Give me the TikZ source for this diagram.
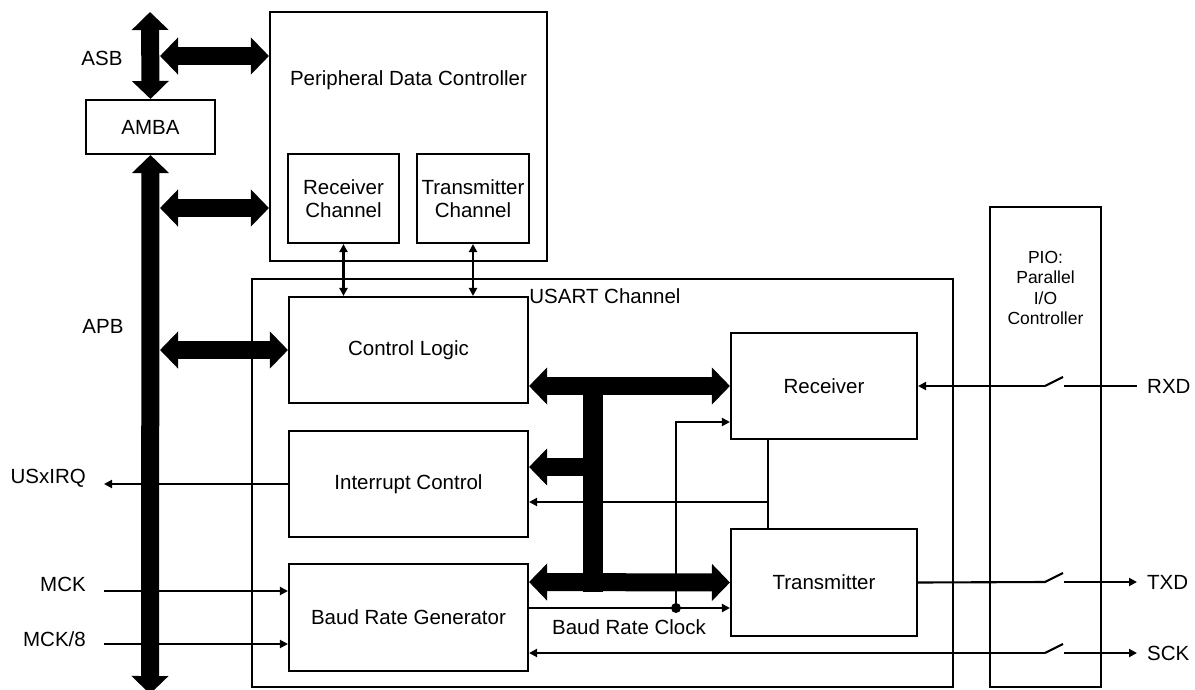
\documentclass[tikz,border=0pt]{standalone}
\usepackage{fontspec}
\setmainfont{Liberation Sans}
\usetikzlibrary{arrows.meta}
\begin{document}
\begin{tikzpicture}[x=1pt,y=-1pt,
  font=\fontsize{20.5}{22.5}\selectfont,
  box/.style={draw,line width=2.1pt,inner sep=0pt,align=center},
  lbl/.style={inner sep=0pt},
  wire/.style={line width=2.1pt},
  ar/.style={wire,-{Triangle[length=8pt,width=8pt]}},
  lar/.style={wire,{Triangle[length=8pt,width=8pt]}-},
  dar/.style={wire,{Triangle[length=8pt,width=8pt]}-{Triangle[length=8pt,width=8pt]}},
  bus/.style={line width=18pt},
  busR/.style={bus,-{Triangle[length=18pt,width=36pt]}},
  busD/.style={bus,{Triangle[length=18pt,width=36pt]}-{Triangle[length=18pt,width=36pt]}},
  jdot/.style={circle,fill,inner sep=0pt,minimum size=10pt}
]
\useasboundingbox (0,0) rectangle (1195,689);
% boxes
\node[box,minimum width=277pt,minimum height=249pt] (pdc) at (408.5,136.5) {};
\node (pdct) at (408.5,80) {Peripheral Data Controller};
\node[box,minimum width=129pt,minimum height=54pt] (amba) at (150.5,127) {AMBA};
\node[box,minimum width=111pt,minimum height=89pt] (rc) at (343.5,198.5) {Receiver\\Channel};
\node[box,minimum width=112pt,minimum height=89pt] (tc) at (473,198.5) {Transmitter\\Channel};
\node[box,minimum width=701pt,minimum height=408pt] (us) at (602.5,483) {};
\node (ust) at (605,296) {USART Channel};
\node[box,minimum width=239pt,minimum height=106pt] (cl) at (408.5,350) {Control Logic};
\node[box,minimum width=239pt,minimum height=106pt] (ic) at (408.5,484) {Interrupt Control};
\node[box,minimum width=239pt,minimum height=107pt] (brg) at (408.5,617.5) {Baud Rate Generator};
\node[box,minimum width=186pt,minimum height=106pt] (rx) at (824,386) {Receiver};
\node[box,minimum width=186pt,minimum height=107pt] (tx) at (824,582.5) {Transmitter};
\node[box,minimum width=111pt,minimum height=480pt] (pio) at (1045.5,447) {};
\node[align=center,font=\fontsize{17.5}{20.5}\selectfont] (piot) at (1045.5,288) {PIO:\\Parallel\\I/O\\Controller};
% labels
\node (asb) at (102,58) {ASB};
\node (apb) at (103,326) {APB};
\node[lbl,anchor=east] (irq) at (86,478) {USxIRQ};
\node[lbl,anchor=east] (mck) at (86,584) {MCK};
\node[lbl,anchor=east] (mck8) at (86,639) {MCK/8};
\node[lbl,anchor=west] (rxd) at (1147,386) {RXD};
\node[lbl,anchor=west] (txd) at (1147,582) {TXD};
\node[lbl,anchor=west] (sck) at (1147,653) {SCK};
\node (brc) at (629,627) {Baud Rate Clock};
% coordinates
\coordinate (asbT) at (150,12);
\coordinate (apbB) at (150,694);
\coordinate (asbR) at (160,56);
\coordinate (apbR1) at (160,208);
\coordinate (apbR2) at (160,350);
\coordinate (barT) at (593,377);
\coordinate (barB) at (593,592);
\coordinate (barI) at (593,467);
\coordinate (y56) at (0,56);
\coordinate (y208) at (0,208);
\coordinate (y386) at (0,386);
\coordinate (y467) at (0,467);
\coordinate (y582) at (0,582);
\coordinate (yRC) at (0,422);
\coordinate (yIC) at (0,502);
\coordinate (xv) at (768,0);
\coordinate (irqE) at (104,484);
\coordinate (mckS) at (104,591);
\coordinate (mck8S) at (104,644);
% buses
\draw[busD] (asbT) -- (amba.north);
\draw[busD] (asbR) -- (pdc.west |- y56);
\draw[busD] (amba.south) -- (apbB);
\draw[busD] (apbR1) -- (pdc.west |- y208);
\draw[busD] (apbR2) -- (cl.west);
\draw[busD] (cl.east |- y386) -- (rx.west);
\draw[line width=20pt] (barT) -- (barB);
\draw[busR] (barI) -- (ic.east |- y467);
\draw[busD] (brg.east |- y582) -- (tx.west);
% thin wires
\draw[dar] (rc.south) -- (rc.south |- cl.north);
\draw[dar] (tc.south) -- (tc.south |- cl.north);
\draw[ar] (ic.west) -- (irqE);
\draw[ar] (mckS) -- (brg.west |- mckS);
\draw[ar] (mck8S) -- (brg.west |- mck8S);
\node[jdot] (dot) at (676,608) {};
\draw[ar] (brg.east |- dot) -- (tx.west |- dot);
\draw[ar] (dot.center) -- (dot.center |- yRC) -- (rx.west |- yRC);
\draw[wire] (rx.south -| xv) -- (tx.north -| xv);
\draw[ar] (xv |- yIC) -- (ic.east |- yIC);
% switches
\coordinate (rxS) at (1045,386); \coordinate (rxT) at (1063,377);
\coordinate (rxR) at (1064,386); \coordinate (rxE) at (1137,386);
\coordinate (txS) at (1045,582); \coordinate (txT) at (1063,573);
\coordinate (txR) at (1064,582); \coordinate (txE) at (1137,582);
\coordinate (sckS) at (1045,653); \coordinate (sckT) at (1063,644);
\coordinate (sckR) at (1064,653); \coordinate (sckE) at (1137,653);
\draw[wire] (rxE) -- (rxR);
\draw[wire] (rxS) -- (rxT);
\draw[ar] (rxS) -- (rx.east);
\draw[wire] (tx.east) -- (txS) -- (txT);
\draw[ar] (txR) -- (txE);
\draw[lar] (brg.east |- sckS) -- (sckS);
\draw[wire] (sckS) -- (sckT);
\draw[ar] (sckR) -- (sckE);
\end{tikzpicture}
\end{document}
